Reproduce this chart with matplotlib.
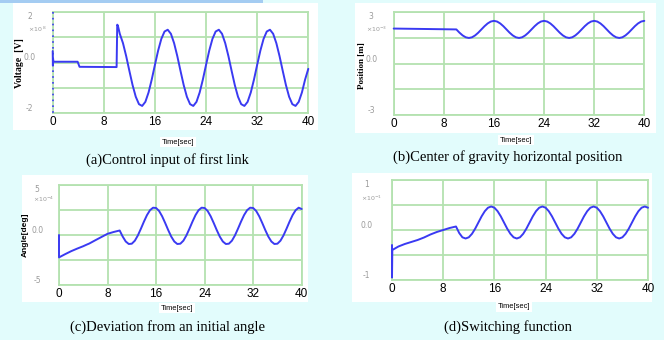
import numpy as np
import matplotlib
matplotlib.use('Agg')
import matplotlib.pyplot as plt
import matplotlib.transforms as mtransforms
from matplotlib.patches import Rectangle

# ---- data ----
time_ticks = [0, 8, 16, 24, 32, 40]

# (a) control input of first link
volt_spike_t = [0.0, 0.0]
volt_spike_v = [2.0, -2.0]
volt_t = [0.0, 0.03, 0.06, 0.1, 0.2, 3.9, 4.2, 10.0, 10.1, 10.2, 10.5, 11.0, 11.5,
          12.0, 12.5, 13.0, 13.5, 14.0, 14.5, 15.0, 15.5, 16.0, 16.5, 17.0, 17.5, 18.0, 18.5, 19.0, 19.5,
          20.0, 20.5, 21.0, 21.5, 22.0, 22.5, 23.0, 23.5, 24.0, 24.5, 25.0, 25.5, 26.0, 26.5, 27.0, 27.5,
          28.0, 28.5, 29.0, 29.5, 30.0, 30.5, 31.0, 31.5, 32.0, 32.5, 33.0, 33.5, 34.0, 34.5, 35.0, 35.5,
          36.0, 36.5, 37.0, 37.5, 38.0, 38.5, 39.0, 39.5, 40.0]
volt_v = [0.45, -0.12, 0.15, 0.03, 0.03, 0.03, -0.17, -0.18, 1.49, 1.45, 1.13, 0.76, 0.25,
          -0.33, -0.89, -1.35, -1.64, -1.71, -1.55, -1.18, -0.67, -0.09, 0.47, 0.93, 1.22, 1.29, 1.13, 0.76, 0.25,
          -0.33, -0.89, -1.35, -1.64, -1.71, -1.55, -1.18, -0.67, -0.09, 0.47, 0.93, 1.22, 1.29, 1.13, 0.76, 0.25,
          -0.33, -0.89, -1.35, -1.64, -1.71, -1.55, -1.18, -0.67, -0.09, 0.47, 0.93, 1.22, 1.29, 1.13, 0.76, 0.25,
          -0.33, -0.89, -1.35, -1.64, -1.71, -1.55, -1.18, -0.67, -0.25]

# (b) centre of gravity horizontal position (x10^-3)
pos_t = [0, 2, 4, 6, 8, 10.0, 10.5, 11.0, 11.5, 12.0, 12.5, 13.0, 13.5, 14.0, 14.5, 15.0, 15.5,
         16.0, 16.5, 17.0, 17.5, 18.0, 18.5, 19.0, 19.5, 20.0, 20.5, 21.0, 21.5, 22.0, 22.5, 23.0, 23.5,
         24.0, 24.5, 25.0, 25.5, 26.0, 26.5, 27.0, 27.5, 28.0, 28.5, 29.0, 29.5, 30.0, 30.5, 31.0, 31.5,
         32.0, 32.5, 33.0, 33.5, 34.0, 34.5, 35.0, 35.5, 36.0, 36.5, 37.0, 37.5, 38.0, 38.5, 39.0, 39.5, 40.0]
pos_v = [2.05, 2.04, 2.03, 2.02, 2.01, 2.0, 1.81, 1.65, 1.54, 1.5, 1.54, 1.65, 1.81,
         2.0, 2.19, 2.35, 2.46, 2.5, 2.46, 2.35, 2.19, 2.0, 1.81, 1.65, 1.54, 1.5, 1.54, 1.65, 1.81,
         2.0, 2.19, 2.35, 2.46, 2.5, 2.46, 2.35, 2.19, 2.0, 1.81, 1.65, 1.54, 1.5, 1.54, 1.65, 1.81,
         2.0, 2.19, 2.35, 2.46, 2.5, 2.46, 2.35, 2.19, 2.0, 1.81, 1.65, 1.54, 1.5, 1.54, 1.65, 1.81,
         2.0, 2.19, 2.35, 2.46, 2.5]

# (c) deviation from an initial angle (x10^-4)
ang_t = [0.0, 0.0, 1, 2, 3, 4, 4.5, 5, 6, 7, 8, 9, 10.0, 10.5, 11.0, 11.5, 12.0, 12.5, 13.0, 13.5,
         14.0, 14.5, 15.0, 15.5, 16.0, 16.5, 17.0, 17.5, 18.0, 18.5, 19.0, 19.5, 20.0, 20.5, 21.0, 21.5,
         22.0, 22.5, 23.0, 23.5, 24.0, 24.5, 25.0, 25.5, 26.0, 26.5, 27.0, 27.5, 28.0, 28.5, 29.0, 29.5,
         30.0, 30.5, 31.0, 31.5, 32.0, 32.5, 33.0, 33.5, 34.0, 34.5, 35.0, 35.5, 36.0, 36.5, 37.0, 37.5,
         38.0, 38.5, 39.0, 39.5, 40.0]
ang_v = [0.0, -2.24, -1.92, -1.62, -1.36, -1.12, -0.98, -0.85, -0.52, -0.2, 0.12, 0.3, 0.45,
         -0.16, -0.65, -0.90, -0.87, -0.57, -0.04, 0.63, 1.34, 1.99, 2.48, 2.73, 2.70, 2.40, 1.87, 1.20,
         0.49, -0.16, -0.65, -0.90, -0.87, -0.57, -0.04, 0.63, 1.34, 1.99, 2.48, 2.73, 2.70, 2.40, 1.87, 1.20,
         0.49, -0.16, -0.65, -0.90, -0.87, -0.57, -0.04, 0.63, 1.34, 1.99, 2.48, 2.73, 2.70, 2.40, 1.87, 1.20,
         0.49, -0.16, -0.65, -0.90, -0.87, -0.57, -0.04, 0.63, 1.34, 1.99, 2.48, 2.73, 2.6]

# (d) switching function (x10^-1)
sw_t = [0.0, 0.0, 0.05, 1, 2, 3, 4, 5, 6, 7, 8, 9, 10.0, 10.5, 11.0, 11.5, 12.0, 12.5, 13.0, 13.5,
        14.0, 14.5, 15.0, 15.5, 16.0, 16.5, 17.0, 17.5, 18.0, 18.5, 19.0, 19.5, 20.0, 20.5, 21.0, 21.5,
        22.0, 22.5, 23.0, 23.5, 24.0, 24.5, 25.0, 25.5, 26.0, 26.5, 27.0, 27.5, 28.0, 28.5, 29.0, 29.5,
        30.0, 30.5, 31.0, 31.5, 32.0, 32.5, 33.0, 33.5, 34.0, 34.5, 35.0, 35.5, 36.0, 36.5, 37.0, 37.5,
        38.0, 38.5, 39.0, 39.5, 40.0]
sw_v = [-0.3, -0.95, -0.4, -0.33, -0.28, -0.24, -0.2, -0.15, -0.09, -0.04, 0.0, 0.04, 0.07,
        -0.06, -0.146, -0.17, -0.146, -0.076, 0.027, 0.15, 0.273, 0.376, 0.446, 0.47, 0.446, 0.376, 0.273, 0.15,
        0.027, -0.076, -0.146, -0.17, -0.146, -0.076, 0.027, 0.15, 0.273, 0.376, 0.446, 0.47, 0.446, 0.376, 0.273, 0.15,
        0.027, -0.076, -0.146, -0.17, -0.146, -0.076, 0.027, 0.15, 0.273, 0.376, 0.446, 0.47, 0.446, 0.376, 0.273, 0.15,
        0.027, -0.076, -0.146, -0.17, -0.146, -0.076, 0.027, 0.15, 0.273, 0.376, 0.446, 0.47, 0.446]

W, H = 664.0, 340.0
bg = '#E2FCFC'
grid_c = '#B4E2B0'
line_c = '#3A3AF2'
gray = '#9A9A9A'

fig = plt.figure(figsize=(6.64, 3.40), dpi=100, facecolor=bg)

def px_rect(x, y, w, h, color):
    # rectangle given in pixel coords from the top-left corner
    fig.patches.append(Rectangle((x / W, 1 - (y + h) / H), w / W, h / H,
                                 transform=fig.transFigure, facecolor=color,
                                 edgecolor='none', zorder=-5))

# top strip and white panel backgrounds
px_rect(0, 0, 263, 3, '#A4CCF2')
px_rect(13, 3, 305, 127, 'white')
px_rect(355, 3, 301, 130, 'white')
px_rect(22, 175, 286, 127, 'white')
px_rect(352, 173, 300, 129, 'white')

def make_ax(left, top, right, bottom):
    return fig.add_axes([left / W, 1 - bottom / H, (right - left) / W, (bottom - top) / H])

def style(ax, lim, labels, mult, lab_x=-0.09, mult_x=-0.065, mult_y=0.83):
    ax.set_facecolor('white')
    ax.set_xlim(0, 40)
    ax.set_ylim(-lim, lim)
    ax.set_xticks(time_ticks)
    ax.set_yticks(np.linspace(-lim, lim, 5))
    ax.set_yticklabels([])
    ax.grid(True, color=grid_c, lw=1.3)
    for s in ax.spines.values():
        s.set_color(grid_c)
        s.set_linewidth(1.3)
    ax.tick_params(length=0, labelsize=8.5, pad=2)
    for lab in ax.get_xticklabels():
        lab.set_family('Liberation Sans')
    tr = mtransforms.blended_transform_factory(ax.transAxes, ax.transData)
    ax.text(lab_x, lim, labels[0], transform=tr, ha='center', va='top', color=gray, fontsize=5.5)
    ax.text(lab_x, 0, labels[1], transform=tr, ha='center', va='bottom', color=gray, fontsize=5.5)
    ax.text(lab_x, -lim, labels[2], transform=tr, ha='center', va='bottom', color=gray, fontsize=5.5)
    ax.text(mult_x, mult_y, mult, transform=ax.transAxes, ha='center', va='center',
            color=gray, fontsize=4.5)

def curve(ax, t, v, **kw):
    ax.plot(t, v, color=line_c, lw=1.4, clip_on=False, zorder=4,
            solid_joinstyle='round', solid_capstyle='round', **kw)

# (a)
ax1 = make_ax(52.7, 11.7, 308.3, 113.3)
style(ax1, 2, ['2', '0.0', '-2'], r'$\times10^{\ 8}$', mult_x=-0.058)
ax1.plot(volt_spike_t, volt_spike_v, color=line_c, lw=1.2, ls=(0, (1, 2.5)),
         clip_on=False, zorder=4)
curve(ax1, volt_t, volt_v)

# (b)
ax2 = make_ax(393.7, 12.3, 644.3, 115)
style(ax2, 3, ['3', '0.0', '-3'], r'$\times10^{-3}$', mult_x=-0.07)
curve(ax2, pos_t, pos_v)

# (c)
ax3 = make_ax(59, 185, 301.7, 285)
style(ax3, 5, ['5', '0.0', '-5'], r'$\times10^{-4}$', mult_y=0.86)
curve(ax3, ang_t, ang_v)

# (d)
ax4 = make_ax(392, 180, 648, 280)
style(ax4, 1, ['1', '0.0', '-1'], r'$\times10^{-1}$', lab_x=-0.1, mult_x=-0.078, mult_y=0.82)
curve(ax4, sw_t, sw_v)

# axis labels
fig.text(19 / W, 1 - 63 / H, 'Voltage  [V]', rotation=90, ha='center', va='center',
         family='Liberation Serif', fontweight='bold', fontsize=7)
fig.text(362 / W, 1 - 66 / H, 'Position [m]', rotation=90, ha='center', va='center',
         family='Liberation Serif', fontweight='bold', fontsize=6.5)
fig.text(25 / W, 1 - 235 / H, 'Angle[deg]', rotation=90, ha='center', va='center',
         family='Liberation Sans', fontweight='bold', fontsize=6)

# time labels in small white boxes
for x, y in [(178, 142), (516, 140), (177, 308), (514, 307)]:
    fig.text(x / W, 1 - y / H, 'Time[sec]', ha='center', va='center', fontsize=5.4,
             family='Liberation Sans',
             bbox=dict(facecolor='white', edgecolor='none', pad=1.2))

# captions
captions = ['(a)Control input of first link', '(b)Center of gravity horizontal position',
            '(c)Deviation from an initial angle', '(d)Switching function']
for (x, y), txt in zip([(167.5, 160), (508, 157), (168, 327), (508, 327)], captions):
    fig.text(x / W, 1 - y / H, txt, ha='center', va='center', fontsize=10.5,
             family='Liberation Serif')

fig.savefig('out.png', dpi=100, facecolor=bg)
